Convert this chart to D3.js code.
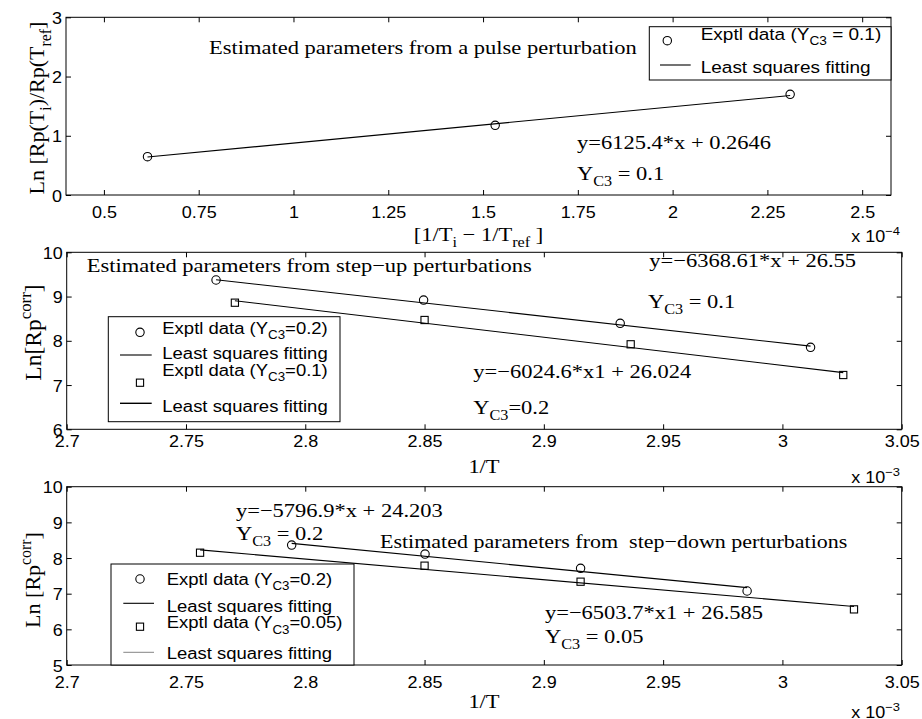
<!DOCTYPE html>
<html>
<head>
<meta charset="utf-8">
<script src="https://cdn.jsdelivr.net/npm/d3@7"></script>
<style>
  body { margin: 0; background: #fff; }
  svg { display: block; }
  text { white-space: pre; }
</style>
</head>
<body>
<svg id="fig" width="922" height="719"></svg>
<script>
// ---- pulse perturbation (x in units of 1e-4) ----
const pulseX = [0.615, 1.532, 2.310];
const pulseY = [0.647, 1.177, 1.700];
const pulseFit = [6125.4, 0.2646];          // slope, intercept (x scaled by 1e-4)
const pulseXTicks = [0.5, 0.75, 1, 1.25, 1.5, 1.75, 2, 2.25, 2.5];
const pulseXTickLabels = ["0.5", "0.75", "1", "1.25", "1.5", "1.75", "2", "2.25", "2.5"];
const pulseYTicks = [0, 1, 2, 3];

// ---- step-up perturbations (x = 1/T in units of 1e-3) ----
const upX02 = [2.7626, 2.8496, 2.9320, 3.0118];
const upY02 = [9.374, 8.920, 8.395, 7.853];
const upX01 = [2.7705, 2.8500, 2.9364, 3.0255];
const upY01 = [8.861, 8.470, 7.921, 7.227];
const upFit02 = [-6024.6, 26.024];
const upFit01 = [-6368.61, 26.55];
const upYTicks = [6, 7, 8, 9, 10];

// ---- step-down perturbations ----
const downX02 = [2.7943, 2.8502, 2.9154, 2.9852];
const downY02 = [8.364, 8.112, 7.711, 7.075];
const downX005 = [2.7559, 2.8500, 2.9154, 3.0300];
const downY005 = [8.149, 7.785, 7.336, 6.560];
const downFit02 = [-6503.7, 26.585];
const downFit005 = [-5796.9, 24.203];
const downYTicks = [5, 6, 7, 8, 9, 10];

const invTTicks = [2.7, 2.75, 2.8, 2.85, 2.9, 2.95, 3, 3.05];
const invTTickLabels = ["2.7", "2.75", "2.8", "2.85", "2.9", "2.95", "3", "3.05"];

const SERIF = "'Liberation Serif','Times New Roman',Times,serif";
const SANS = "'Liberation Sans',Arial,Helvetica,sans-serif";
const SQ_SERIF = 0.85;   // vertical squeeze of horizontal serif lettering
const SQ_SANS = 0.9;     // vertical squeeze of horizontal sans lettering

const svg = d3.select("#fig");

// Rich text: parts are strings or [string, "sub"|"sup"]
function rich(parent, x, y, parts, o) {
  const size = o.size;
  const sq = o.serif ? SQ_SERIF : SQ_SANS;
  const tf = o.rotate
    ? `translate(${x},${y}) rotate(-90)`
    : `translate(${x},${y}) scale(1,${sq})`;
  const t = parent.append("text")
    .attr("transform", tf)
    .attr("font-family", o.serif ? SERIF : SANS)
    .attr("font-size", size)
    .attr("text-anchor", o.anchor || "start")
    .attr("fill", "#000");
  let shift = 0;
  parts.forEach(p => {
    const [str, kind] = typeof p === "string" ? [p, "n"] : p;
    const target = kind === "sub" ? size * 0.32 : kind === "sup" ? -size * 0.42 : 0;
    t.append("tspan")
      .attr("dy", target - shift)
      .attr("font-size", kind === "n" ? size : size * 0.72)
      .text(str);
    shift = target;
  });
  return t;
}

function axesBox(g, x, y, xt, xfmt, yt, xLabOff) {
  const [x0, x1] = x.range(), [y0, y1] = y.range();
  g.append("rect")
    .attr("x", x0).attr("y", y1)
    .attr("width", x1 - x0).attr("height", y0 - y1)
    .attr("fill", "none").attr("stroke", "#000").attr("stroke-width", 1);
  const bx = g.append("g").attr("transform", `translate(0,${y0})`)
    .call(d3.axisBottom(x).tickValues(xt).tickSize(-5).tickFormat(xfmt));
  const tx = g.append("g").attr("transform", `translate(0,${y1})`)
    .call(d3.axisTop(x).tickValues(xt).tickSize(-5).tickFormat(""));
  const ly = g.append("g").attr("transform", `translate(${x0},0)`)
    .call(d3.axisLeft(y).tickValues(yt).tickSize(-5).tickFormat(d3.format("d")));
  const ry = g.append("g").attr("transform", `translate(${x1},0)`)
    .call(d3.axisRight(y).tickValues(yt).tickSize(-5).tickFormat(""));
  [bx, tx, ly, ry].forEach(a => {
    a.select(".domain").remove();
    a.attr("font-family", SANS).attr("font-size", 18);
    a.selectAll(".tick line").attr("stroke", "#000");
  });
  bx.selectAll(".tick text")
    .attr("y", 0).attr("dy", null).attr("fill", "#000")
    .attr("transform", `translate(0,${xLabOff}) scale(1,${SQ_SANS})`);
  ly.selectAll(".tick text")
    .attr("x", 0).attr("dy", null).attr("fill", "#000")
    .attr("text-anchor", "end")
    .attr("transform", `translate(-4,6) scale(1,${SQ_SANS})`);
}

function fitLine(g, x, y, xs, fit, unit) {
  const ends = d3.extent(xs);
  g.append("path")
    .datum(ends)
    .attr("d", d3.line().x(d => x(d)).y(d => y(fit[0] * d * unit + fit[1])))
    .attr("fill", "none").attr("stroke", "#000").attr("stroke-width", 1.1);
}

function circles(g, x, y, xs, ys) {
  g.selectAll(null).data(xs).enter().append("circle")
    .attr("cx", d => x(d)).attr("cy", (d, i) => y(ys[i])).attr("r", 4.2)
    .attr("fill", "none").attr("stroke", "#000").attr("stroke-width", 1.1);
}

function squares(g, x, y, xs, ys) {
  g.selectAll(null).data(xs).enter().append("rect")
    .attr("x", d => x(d) - 3.6).attr("y", (d, i) => y(ys[i]) - 3.6)
    .attr("width", 7.2).attr("height", 7.2)
    .attr("fill", "none").attr("stroke", "#000").attr("stroke-width", 1.1);
}

function legendBox(g, x0, y0, x1, y1) {
  g.append("rect").attr("x", x0).attr("y", y0).attr("width", x1 - x0).attr("height", y1 - y0)
    .attr("fill", "#fff").attr("stroke", "#000").attr("stroke-width", 1);
}
function legCircle(g, cx, cy) {
  g.append("circle").attr("cx", cx).attr("cy", cy).attr("r", 4.2)
    .attr("fill", "none").attr("stroke", "#000").attr("stroke-width", 1.1);
}
function legSquare(g, cx, cy) {
  g.append("rect").attr("x", cx - 3.6).attr("y", cy - 3.6).attr("width", 7.2).attr("height", 7.2)
    .attr("fill", "none").attr("stroke", "#000").attr("stroke-width", 1.1);
}
function legLine(g, xa, xb, yy, col, w) {
  g.append("line").attr("x1", xa).attr("x2", xb).attr("y1", yy).attr("y2", yy)
    .attr("stroke", col || "#000").attr("stroke-width", w || 1.1);
}

const fmtFrom = (vals, labels) => d => labels[vals.indexOf(d)];

// ================= top: pulse perturbation =================
{
  const g = svg.append("g");
  const x = d3.scaleLinear().domain([0.4, 2.576]).range([66, 891]);
  const y = d3.scaleLinear().domain([0, 3]).range([195, 17.3]);
  axesBox(g, x, y, pulseXTicks, fmtFrom(pulseXTicks, pulseXTickLabels), pulseYTicks, 23);
  fitLine(g, x, y, pulseX, pulseFit, 1e-4);
  circles(g, x, y, pulseX, pulseY);

  rich(g, 209, 54.3, ["Estimated parameters from a pulse perturbation"], { serif: true, size: 22.5 });
  rich(g, 577, 149.3, ["y=6125.4*x + 0.2646"], { serif: true, size: 22.5 });
  rich(g, 577, 180, ["Y", ["C3", "sub"], " = 0.1"], { serif: true, size: 22.5 });

  legendBox(g, 649.3, 26.7, 891, 80);
  legCircle(g, 667.3, 40.7);
  rich(g, 700.7, 40, ["Exptl data (Y", ["C3", "sub"], " = 0.1)"], { size: 19 });
  legLine(g, 660, 690.7, 65);
  rich(g, 700.7, 73.3, ["Least squares fitting"], { size: 19 });

  rich(g, 44, 108, ["Ln [Rp(T", ["i", "sub"], ")/Rp(T", ["ref", "sub"], "]"],
       { serif: true, size: 22, rotate: true, anchor: "middle" });
  rich(g, 478.5, 241, ["[1/T", ["i", "sub"], " \u2212 1/T", ["ref", "sub"], " ]"],
       { serif: true, size: 22.5, anchor: "middle" });
  rich(g, 900, 241.5, ["x 10", ["\u22124", "sup"]], { size: 18, anchor: "end" });
}

// ================= middle: step-up perturbations =================
{
  const g = svg.append("g");
  const x = d3.scaleLinear().domain([2.7, 3.05]).range([66.7, 901.7]);
  const y = d3.scaleLinear().domain([6, 10]).range([429.3, 252.3]);
  axesBox(g, x, y, invTTicks, fmtFrom(invTTicks, invTTickLabels), upYTicks, 17.7);
  fitLine(g, x, y, upX02, upFit02, 1e-3);
  fitLine(g, x, y, upX01, upFit01, 1e-3);
  circles(g, x, y, upX02, upY02);
  squares(g, x, y, upX01, upY01);

  rich(g, 86.7, 272, ["Estimated parameters from step\u2212up perturbations"], { serif: true, size: 22.5 });
  rich(g, 649.3, 267, ["y=\u22126368.61*x + 26.55"], { serif: true, size: 22.5 });
  rich(g, 648, 307.5, ["Y", ["C3", "sub"], " = 0.1"], { serif: true, size: 22.5 });
  rich(g, 473.3, 378, ["y=\u22126024.6*x1 + 26.024"], { serif: true, size: 22.5 });
  rich(g, 473.3, 414, ["Y", ["C3", "sub"], "=0.2"], { serif: true, size: 22.5 });

  legendBox(g, 108.3, 316.7, 340, 421.7);
  legCircle(g, 140, 332.3);
  rich(g, 162.3, 333.5, ["Exptl data (Y", ["C3", "sub"], "=0.2)"], { size: 18.5 });
  legLine(g, 120, 151.7, 355);
  rich(g, 162.3, 359, ["Least squares fitting"], { size: 18.5 });
  legSquare(g, 140, 382.7);
  rich(g, 162.3, 376, ["Exptl data (Y", ["C3", "sub"], "=0.1)"], { size: 18.5 });
  legLine(g, 120, 151.7, 403.3, "#000", 1.4);
  rich(g, 162.3, 411.7, ["Least squares fitting"], { size: 18.5 });

  rich(g, 41, 332.5, ["Ln[Rp", ["corr", "sup"], "]"],
       { serif: true, size: 23.5, rotate: true, anchor: "middle" });
  rich(g, 484, 473, ["1/T"], { serif: true, size: 22.5, anchor: "middle" });
  rich(g, 900, 483, ["x 10", ["\u22123", "sup"]], { size: 18, anchor: "end" });
}

// ================= bottom: step-down perturbations =================
{
  const g = svg.append("g");
  const x = d3.scaleLinear().domain([2.7, 3.05]).range([66.7, 901.7]);
  const y = d3.scaleLinear().domain([5, 10]).range([665, 486.7]);
  axesBox(g, x, y, invTTicks, fmtFrom(invTTicks, invTTickLabels), downYTicks, 23);
  fitLine(g, x, y, downX02, downFit02, 1e-3);
  fitLine(g, x, y, downX005, downFit005, 1e-3);
  circles(g, x, y, downX02, downY02);
  squares(g, x, y, downX005, downY005);

  rich(g, 236, 516.7, ["y=\u22125796.9*x + 24.203"], { serif: true, size: 22.5 });
  rich(g, 236, 540, ["Y", ["C3", "sub"], " = 0.2"], { serif: true, size: 22.5 });
  rich(g, 380, 548, ["Estimated parameters from  step\u2212down perturbations"], { serif: true, size: 22 });
  rich(g, 545, 619.3, ["y=\u22126503.7*x1 + 26.585"], { serif: true, size: 22.5 });
  rich(g, 545, 643.3, ["Y", ["C3", "sub"], " = 0.05"], { serif: true, size: 22.5 });

  legendBox(g, 111, 564, 354, 665);
  legCircle(g, 140, 579);
  rich(g, 166.7, 585, ["Exptl data (Y", ["C3", "sub"], "=0.2)"], { size: 18.5 });
  legLine(g, 123.3, 154, 603.3);
  rich(g, 166.7, 611.7, ["Least squares fitting"], { size: 18.5 });
  legSquare(g, 140, 626.7);
  rich(g, 166.7, 628.3, ["Exptl data (Y", ["C3", "sub"], "=0.05)"], { size: 18.5 });
  legLine(g, 123.3, 154, 652.3, "#777", 0.9);
  rich(g, 166.7, 659.3, ["Least squares fitting"], { size: 18.5 });

  rich(g, 40, 580, ["Ln [Rp", ["corr", "sup"], "]"],
       { serif: true, size: 22, rotate: true, anchor: "middle" });
  rich(g, 484, 708, ["1/T"], { serif: true, size: 22.5, anchor: "middle" });
  rich(g, 900, 718, ["x 10", ["\u22123", "sup"]], { size: 18, anchor: "end" });
}
</script>
</body>
</html>
